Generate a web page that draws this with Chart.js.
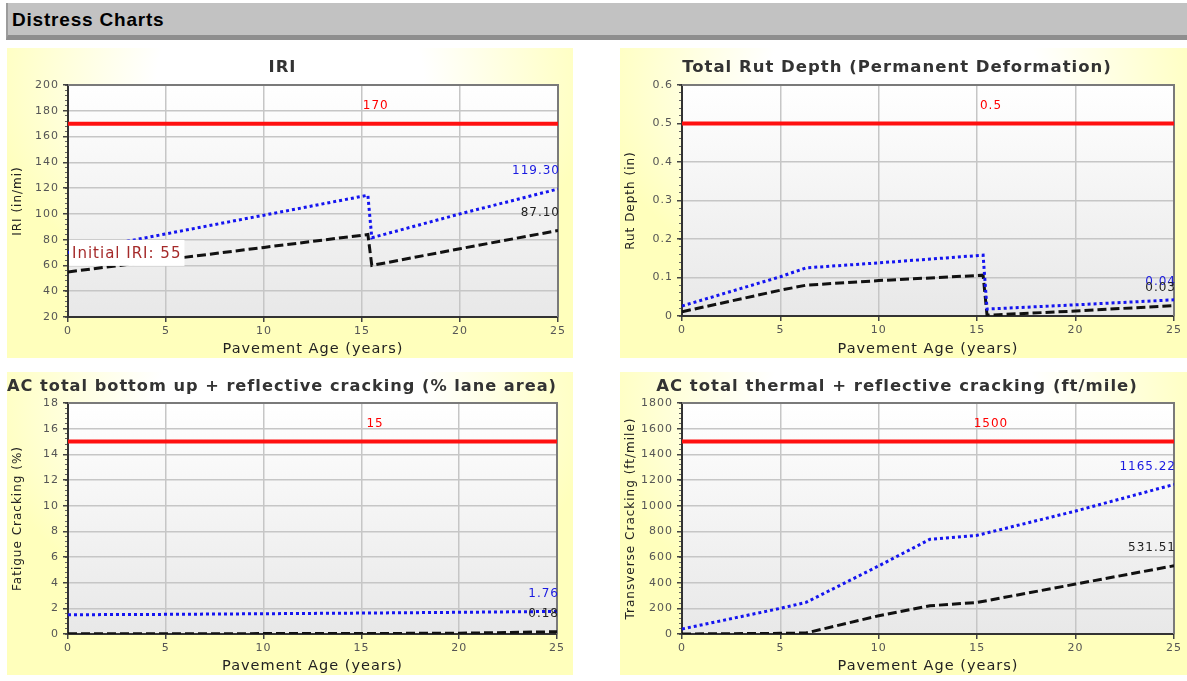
<!DOCTYPE html>
<html lang="en">
<head>
<meta charset="UTF-8" />
<title>Distress Charts</title>
<script src="https://cdn.jsdelivr.net/npm/chart.js@4"></script>
<style>
  body { margin: 0; width: 1187px; height: 681px; background: #fff; position: relative; overflow: hidden; }
  .bar { position: absolute; left: 6px; top: 3px; width: 1179px; height: 32px; background: #c2c2c2; border-left: 2px solid #9c9c9c; border-bottom: 5px solid #8e8e8e; }
  .bar span { position: absolute; left: 4px; top: 6px; font: bold 19px "Liberation Sans", Arial, sans-serif; letter-spacing: 0.8px; color: #000; }
  .box { position: absolute; background: radial-gradient(ellipse 62% 85% at 50% 10%, #ffffff 38%, #ffffbc 88%); }
  .box canvas { position: absolute; left: 0; top: 0; }
</style>
</head>
<body>
<div class="bar"><span>Distress Charts</span></div>
<div class="box" style="left:7px;top:48px;width:566px;height:310px"><canvas id="iri" width="566" height="310"></canvas></div>
<div class="box" style="left:620px;top:48px;width:567px;height:310px"><canvas id="rut" width="567" height="310"></canvas></div>
<div class="box" style="left:7px;top:372px;width:566px;height:303px"><canvas id="fat" width="566" height="303"></canvas></div>
<div class="box" style="left:620px;top:372px;width:567px;height:303px"><canvas id="tc" width="567" height="303"></canvas></div>
<script>
// values (pavement age in years)
const iriAge = [0, 5, 10, 15.3, 15.5, 20, 25];
const iriMean = [55, 64.5, 74, 84, 60, 73, 87.1];
const iriReliab = [70, 84.5, 99, 114.5, 81.5, 100, 119.3];
const iriLimit = 170;

const rutAge = [0, 5, 6.3, 10, 15.3, 15.5, 20, 25];
const rutMean = [0.011, 0.067, 0.08, 0.092, 0.106, 0.002, 0.013, 0.027];
const rutReliab = [0.026, 0.102, 0.125, 0.138, 0.158, 0.018, 0.029, 0.042];
const rutLimit = 0.5;

const fatAge = [0, 5, 10, 15, 20, 25];
const fatMean = [0.02, 0.02, 0.03, 0.04, 0.06, 0.18];
const fatReliab = [1.5, 1.53, 1.58, 1.63, 1.69, 1.76];
const fatLimit = 15;

const tcAge = [0, 5, 6.3, 10, 12.6, 15, 20, 25];
const tcMean = [0, 5, 8, 142, 220, 246, 389, 531.51];
const tcReliab = [39, 200, 246, 531, 738, 769, 958, 1165.22];
const tcLimit = 1500;

Chart.defaults.font.family = '"DejaVu Sans", Verdana, sans-serif';
Chart.defaults.animation = false;

const TITLE_SIZE = 16.5;

// plot background, top/right frame and the value labels
const decor = {
  id: 'decor',
  beforeLayout(chart) { chart.ctx.letterSpacing = '1px'; },
  beforeDraw(chart) {
    const { ctx, chartArea: a } = chart;
    ctx.letterSpacing = '1px';
    const g = ctx.createLinearGradient(0, a.top, 0, a.bottom);
    g.addColorStop(0, '#ffffff');
    g.addColorStop(1, '#e8e8e8');
    ctx.save();
    ctx.fillStyle = g;
    ctx.fillRect(a.left, a.top, a.right - a.left, a.bottom - a.top);
    ctx.restore();
  },
  beforeDatasetsDraw(chart) {
    const { ctx, chartArea: a } = chart;
    ctx.save();
    ctx.strokeStyle = '#7a7a7a';
    ctx.lineWidth = 2;
    ctx.beginPath();
    ctx.moveTo(a.left, a.top);
    ctx.lineTo(a.right, a.top);
    ctx.lineTo(a.right, a.bottom);
    ctx.stroke();
    ctx.restore();
  },
  afterDatasetsDraw(chart, args, opts) {
    const { ctx, chartArea: a } = chart;
    const xs = chart.scales.x, ys = chart.scales.y;
    ctx.save();
    ctx.letterSpacing = '1px';
    ctx.font = '12px "DejaVu Sans"';
    ctx.textBaseline = 'middle';
    ctx.textAlign = 'center';
    ctx.fillStyle = '#ff0000';
    ctx.fillText(String(opts.limit), xs.getPixelForValue(15.7), ys.getPixelForValue(opts.limit) - 18);
    ctx.textAlign = 'right';
    const r = opts.reliab[opts.reliab.length - 1];
    const m = opts.mean[opts.mean.length - 1];
    ctx.fillStyle = '#1a1ae0';
    ctx.fillText(r.toFixed(2), a.right + 2, ys.getPixelForValue(r) - 18);
    ctx.fillStyle = '#222';
    ctx.fillText(m.toFixed(2), a.right + 2, ys.getPixelForValue(m) - 18);
    if (opts.initial) {
      const txt = opts.initial + opts.mean[0];
      ctx.font = '15px "DejaVu Sans"';
      const w = ctx.measureText(txt).width;
      const y = ys.getPixelForValue(opts.mean[0]) - 18;
      ctx.fillStyle = '#ffffff';
      ctx.fillRect(a.left + 1, y - 14, w + 6, 26);
      ctx.textAlign = 'left';
      ctx.fillStyle = '#a52a2a';
      ctx.fillText(txt, a.left + 4, y);
    }
    ctx.restore();
  }
};

function makeChart(id, cfg) {
  const pts = (ys) => cfg.x.map((x, i) => ({ x: x, y: ys[i] }));
  const first = cfg.x[0], last = cfg.x[cfg.x.length - 1];
  const lh = TITLE_SIZE * 1.2;
  new Chart(document.getElementById(id), {
    type: 'line',
    data: {
      datasets: [
        { label: 'Threshold', data: [{ x: first, y: cfg.limit }, { x: last, y: cfg.limit }],
          borderColor: '#ff1010', borderWidth: 4, pointRadius: 0, yAxisID: 'y' },
        { label: 'At Specified Reliability', data: pts(cfg.reliab),
          borderColor: '#1414f0', borderWidth: 3, borderDash: [3, 3], pointRadius: 0, yAxisID: 'y' },
        { label: 'At 50% Reliability', data: pts(cfg.mean),
          borderColor: '#111111', borderWidth: 3, borderDash: [9, 4], pointRadius: 0, yAxisID: 'y' }
      ]
    },
    options: {
      responsive: false,
      layout: { padding: { left: 0, right: cfg.right, top: 0, bottom: 0 } },
      scales: {
        x: {
          type: 'linear', position: 'bottom', min: 0, max: 25,
          ticks: { stepSize: 5, color: '#555', font: { size: 11 }, padding: 3, maxRotation: 0 },
          grid: { color: '#c6c6c6', lineWidth: 1.5, tickLength: 5, tickColor: '#444' },
          border: { color: '#333', width: 2 },
          title: { display: true, text: 'Pavement Age (years)', color: '#222', font: { size: 14.5 }, padding: { top: 0, bottom: 0 } },
          afterFit: (s) => { s.height = cfg.bottom; }
        },
        yMinor: {
          type: 'linear', position: 'left', weight: 0, min: cfg.min, max: cfg.max,
          ticks: { stepSize: cfg.step / 5, display: false, autoSkip: false },
          grid: { drawOnChartArea: false, tickLength: 3, tickColor: '#666', lineWidth: 1 },
          border: { display: false },
          afterFit: (s) => { s.width = 0; }
        },
        y: {
          type: 'linear', position: 'left', weight: 1, min: cfg.min, max: cfg.max,
          ticks: { stepSize: cfg.step, color: '#555', font: { size: 11 }, padding: 4,
                   callback: (v) => String(+v.toFixed(3)) },
          grid: { color: '#c6c6c6', lineWidth: 1.5, tickLength: 5, tickColor: '#444' },
          border: { color: '#333', width: 2 },
          title: { display: true, text: cfg.yTitle, color: '#222', font: { size: 12 }, padding: { top: 4, bottom: 0 } },
          afterFit: (s) => { s.width = cfg.left; }
        }
      },
      plugins: {
        legend: { display: false },
        tooltip: { enabled: false },
        title: { display: true, text: cfg.title, color: '#333', font: { size: TITLE_SIZE, weight: 'bold' },
                 padding: { top: cfg.titleY - lh / 2, bottom: cfg.top - cfg.titleY - lh / 2 } },
        decor: { limit: cfg.limit, mean: cfg.mean, reliab: cfg.reliab, initial: cfg.initial }
      }
    },
    plugins: [decor]
  });
}

makeChart('iri', {
  title: 'IRI', yTitle: 'IRI (in/mi)', x: iriAge, mean: iriMean, reliab: iriReliab, limit: iriLimit,
  min: 20, max: 200, step: 20, initial: 'Initial IRI: ',
  left: 61, right: 15, top: 37, bottom: 41, titleY: 20
});
makeChart('rut', {
  title: 'Total Rut Depth (Permanent Deformation)', yTitle: 'Rut Depth (in)', x: rutAge, mean: rutMean, reliab: rutReliab, limit: rutLimit,
  min: 0, max: 0.6, step: 0.1,
  left: 62, right: 13, top: 37, bottom: 42, titleY: 20
});
makeChart('fat', {
  title: 'AC total bottom up + reflective cracking (% lane area)', yTitle: 'Fatigue Cracking (%)', x: fatAge, mean: fatMean, reliab: fatReliab, limit: fatLimit,
  min: 0, max: 18, step: 2,
  left: 61, right: 16, top: 31, bottom: 41, titleY: 15
});
makeChart('tc', {
  title: 'AC total thermal + reflective cracking (ft/mile)', yTitle: 'Transverse Cracking (ft/mile)', x: tcAge, mean: tcMean, reliab: tcReliab, limit: tcLimit,
  min: 0, max: 1800, step: 200,
  left: 62, right: 13, top: 31, bottom: 41, titleY: 15
});
</script>
</body>
</html>
